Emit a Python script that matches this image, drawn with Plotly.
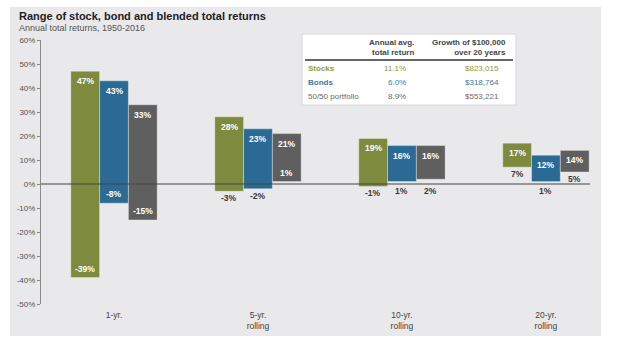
import plotly.graph_objects as go

# ---------------- data ----------------
categories = ["1-yr.", "5-yr.<br>rolling", "10-yr.<br>rolling", "20-yr.<br>rolling"]
series_names = ["Stocks", "Bonds", "50/50 portfolio"]
stocks_high = [47, 28, 19, 17]
stocks_low = [-39, -3, -1, 7]
bonds_high = [43, 23, 16, 12]
bonds_low = [-8, -2, 1, 1]
blend_high = [33, 21, 16, 14]
blend_low = [-15, 1, 2, 5]
# whether the low label sits inside the bar (white) or below it (dark)
stocks_low_inside = [True, False, False, False]
bonds_low_inside = [True, False, False, False]
blend_low_inside = [True, True, False, False]

table_avg = ["11.1%", "6.0%", "8.9%"]
table_growth = ["$823,015", "$318,764", "$553,221"]
y_ticks = [-50, -40, -30, -20, -10, 0, 10, 20, 30, 40, 50, 60]
y_tick_text = [f"{v}%" for v in y_ticks]

# ---------------- style ----------------
colors = ["#7e8a3e", "#2b6a95", "#5f5f60"]
text_colors = ["#8d9a48", "#3b78a6", "#6a6a6a"]
panel_bg = "#e9e8ea"
FONT = "Liberation Sans, Arial, sans-serif"

W, H = 620, 354
L, R, T, B = 41, 590, 40, 304


def px(x):
    return (x - L) / (R - L)


def py(y):
    return (B - y) / (B - T)


fig = go.Figure()
highs = [stocks_high, bonds_high, blend_high]
lows = [stocks_low, bonds_low, blend_low]
inside = [stocks_low_inside, bonds_low_inside, blend_low_inside]

for i in range(3):
    fig.add_trace(go.Bar(
        x=list(range(len(categories))),
        y=[h - l for h, l in zip(highs[i], lows[i])],
        base=lows[i],
        name=series_names[i],
        marker=dict(color=colors[i], line=dict(color="rgba(255,255,255,0.45)", width=0.8)),
        hoverinfo="skip",
        showlegend=False,
    ))

annotations = []
offsets = [-0.2, 0.0, 0.2]
for i in range(3):
    for j in range(len(categories)):
        annotations.append(dict(
            x=j + offsets[i], y=highs[i][j], xref="x", yref="y",
            text=f"<b>{highs[i][j]}%</b>", showarrow=False,
            yanchor="top", yshift=-3,
            font=dict(family=FONT, size=8.5, color="white"),
        ))
        low = lows[i][j]
        if inside[i][j]:
            annotations.append(dict(
                x=j + offsets[i], y=low, xref="x", yref="y",
                text=f"<b>{low}%</b>", showarrow=False,
                yanchor="bottom", yshift=2,
                font=dict(family=FONT, size=8.5, color="white"),
            ))
        else:
            annotations.append(dict(
                x=j + offsets[i], y=(low if low >= 3 else min(low, 0)), xref="x", yref="y",
                text=f"<b>{low}%</b>", showarrow=False,
                yanchor="top", yshift=0,
                font=dict(family=FONT, size=8.5, color="#3a3a3a"),
            ))

# title and subtitle
annotations.append(dict(x=px(17), y=py(16), xref="paper", yref="paper",
                        text="<b>Range of stock, bond and blended total returns</b>",
                        showarrow=False, xanchor="left", yanchor="middle",
                        font=dict(family=FONT, size=11, color="#222")))
annotations.append(dict(x=px(17), y=py(28), xref="paper", yref="paper",
                        text="Annual total returns, 1950-2016",
                        showarrow=False, xanchor="left", yanchor="middle",
                        font=dict(family=FONT, size=9, color="#555")))

# table header
annotations.append(dict(x=px(416), y=py(48), xref="paper", yref="paper",
                        text="<b>Annual avg.<br>total return</b>", showarrow=False,
                        xanchor="right", yanchor="middle", align="right",
                        font=dict(family=FONT, size=8, color="#444")))
annotations.append(dict(x=px(508), y=py(48), xref="paper", yref="paper",
                        text="<b>Growth of $100,000<br>over 20 years</b>", showarrow=False,
                        xanchor="right", yanchor="middle", align="right",
                        font=dict(family=FONT, size=8, color="#444")))
row_y = [68, 82, 96]
for k in range(3):
    annotations.append(dict(x=px(306), y=py(row_y[k]), xref="paper", yref="paper",
                            text=(f"<b>{series_names[k]}</b>" if k < 2 else series_names[k]),
                            showarrow=False, xanchor="left", yanchor="middle",
                            font=dict(family=FONT, size=8, color=text_colors[k])))
    annotations.append(dict(x=px(408), y=py(row_y[k]), xref="paper", yref="paper",
                            text=table_avg[k], showarrow=False,
                            xanchor="right", yanchor="middle",
                            font=dict(family=FONT, size=8, color=text_colors[k])))
    annotations.append(dict(x=px(501), y=py(row_y[k]), xref="paper", yref="paper",
                            text=table_growth[k], showarrow=False,
                            xanchor="right", yanchor="middle",
                            font=dict(family=FONT, size=8, color=text_colors[k])))

shapes = [
    # gray panel
    dict(type="rect", xref="paper", yref="paper", x0=px(10), x1=px(601), y0=py(336), y1=py(7),
         fillcolor=panel_bg, line=dict(width=0), layer="below"),
    # table box
    dict(type="rect", xref="paper", yref="paper", x0=px(302), x1=px(516), y0=py(105), y1=py(34),
         fillcolor="white", line=dict(color="#d8d8d8", width=1), layer="below"),
    # header rule
    dict(type="line", xref="paper", yref="paper", x0=px(305), x1=px(513), y0=py(60), y1=py(60),
         line=dict(color="#333", width=1.5), layer="above"),
    # zero line
    dict(type="line", xref="paper", yref="y", x0=0, x1=1, y0=0, y1=0,
         line=dict(color="#444", width=1), layer="above"),
]

fig.update_layout(
    width=W, height=H,
    margin=dict(l=L, r=W - R, t=T, b=H - B, autoexpand=False),
    paper_bgcolor="white",
    plot_bgcolor="rgba(0,0,0,0)",
    barmode="group", bargap=0.4, bargroupgap=0,
    font=dict(family=FONT, size=8, color="#555"),
    xaxis=dict(range=[-0.507, 3.306], showgrid=False, zeroline=False, showline=False,
               ticks="", tickfont=dict(family=FONT, size=8.5, color="#444"),
               tickvals=list(range(len(categories))), ticktext=categories, type="linear",
               ticklabelstandoff=4),
    yaxis=dict(range=[-50, 60], tickvals=y_ticks, ticktext=y_tick_text, showgrid=False,
               zeroline=False, showline=True, linecolor="#8a8a8a", linewidth=1,
               ticks="outside", ticklen=3, tickcolor="#8a8a8a",
               tickfont=dict(family=FONT, size=8, color="#555")),
    annotations=annotations,
    shapes=shapes,
)

fig.write_html("out.html")
